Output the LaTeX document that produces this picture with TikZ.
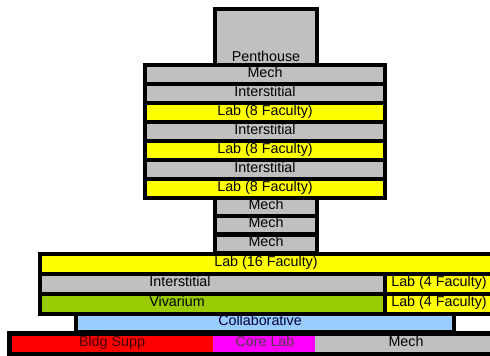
\documentclass[tikz,border=0pt]{standalone}
\usepackage{fontspec}
\setmainfont{Liberation Sans}
\definecolor{sil}{HTML}{C0C0C0}
\definecolor{ylw}{HTML}{FFFF00}
\definecolor{grn}{HTML}{99CC00}
\definecolor{blu}{HTML}{99CCFF}
\definecolor{rd}{HTML}{FF0000}
\definecolor{mag}{HTML}{FF00FF}
\begin{document}
\begin{tikzpicture}[x=1pt,y=-1pt,
  lbl/.style={font=\fontsize{14.3}{15}\selectfont, text=black, inner sep=0pt,
    text height=0.72em, text depth=0.2em, anchor=center},
  blk/.style={fill=black}]
\useasboundingbox (0,0) rectangle (490,356);
\clip (0,0) rectangle (490,356);
% outer black blocks
\fill[blk] (213,7) rectangle (319,67);
\fill[blk] (143,63) rectangle (387,200);
\fill[blk] (213,196) rectangle (319,256);
\fill[blk] (38,252) rectangle (500,316);
\fill[blk] (74,312) rectangle (456,334);
\fill[blk] (7,331) rectangle (500,356);
% penthouse
\fill[sil] (217,11) rectangle (315,63);
% tower rows
\fill[sil] (147,67) rectangle (383,82);
\fill[sil] (147,86) rectangle (383,101);
\fill[ylw] (147,105) rectangle (383,120);
\fill[sil] (147,124) rectangle (383,139);
\fill[ylw] (147,143) rectangle (383,158);
\fill[sil] (147,162) rectangle (383,177);
\fill[ylw] (147,181) rectangle (383,196);
% mech stack
\fill[sil] (217,199.5) rectangle (315,213.5);
\fill[sil] (217,218) rectangle (315,232);
\fill[sil] (217,236.5) rectangle (315,251);
% lower block
\fill[ylw] (42,256) rectangle (500,272);
\fill[sil] (42,275.5) rectangle (383,292);
\fill[ylw] (387,275.5) rectangle (500,292);
\fill[grn] (42,296) rectangle (383,312);
\fill[ylw] (387,296) rectangle (500,312);
% collaborative
\fill[blu] (78,316) rectangle (452,330);
% bottom
\fill[rd] (11.5,336) rectangle (213,352);
\fill[mag] (213,336) rectangle (315,352);
\fill[sil] (315,336) rectangle (500,352);
% labels
\node[lbl, anchor=base] (ph) at (266,61) {Penthouse};
\node[lbl] (t1) at (265,74.5) {Mech};
\node[lbl] (t2) at (265,93.5) {Interstitial};
\node[lbl] (t3) at (265,112.5) {Lab (8 Faculty)};
\node[lbl] (t4) at (265,131.5) {Interstitial};
\node[lbl] (t5) at (265,150.5) {Lab (8 Faculty)};
\node[lbl] (t6) at (265,169.5) {Interstitial};
\node[lbl] (t7) at (265,188.5) {Lab (8 Faculty)};
\node[lbl] (m1) at (266,206.5) {Mech};
\node[lbl] (m2) at (266,225) {Mech};
\node[lbl] (m3) at (266,244) {Mech};
\node[lbl] (l16) at (266,264) {Lab (16 Faculty)};
\node[lbl] (int) at (180,284) {Interstitial};
\node[lbl] (l4a) at (439,284) {Lab (4 Faculty)};
\node[lbl] (viv) at (177,304) {Vivarium};
\node[lbl] (l4b) at (439,304) {Lab (4 Faculty)};
\node[lbl, text=blue!20!black] (col) at (260,323) {Collaborative};
\node[lbl, text=red!25!black] (bs) at (112,344) {Bldg Supp};
\node[lbl, text=magenta!22!black] (cl) at (265,344) {Core Lab};
\node[lbl] (mb) at (406,344) {Mech};
\end{tikzpicture}
\end{document}
